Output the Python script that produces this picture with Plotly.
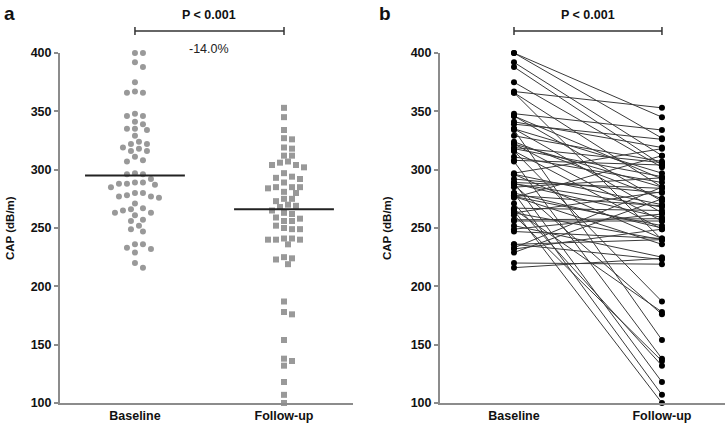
import plotly.graph_objects as go

# ---------------- data ----------------
groups = ["Baseline", "Follow-up"]
baseline = [400, 400, 392, 388, 375, 367, 366, 366, 348, 346, 346, 341, 339, 335, 335, 334,
            329, 324, 322, 322, 319, 318, 316, 316, 311, 308, 307, 297, 296, 296, 292, 289,
            289, 288, 288, 287, 285, 280, 280, 278, 277, 277, 276, 271, 267, 266, 265, 263,
            263, 261, 257, 256, 252, 249, 247, 236, 236, 233, 232, 229, 220, 216]
followup = [327, 345, 312, 304, 302, 353, 285, 240, 334, 292, 273, 319, 326, 263, 297, 154,
            307, 275, 285, 256, 306, 294, 187, 249, 289, 304, 138, 318, 270, 241, 280, 118,
            284, 268, 259, 176, 293, 250, 107, 269, 252, 236, 312, 132, 265, 178, 100, 281,
            240, 136, 258, 256, 225, 262, 241, 240, 223, 285, 249, 275, 219, 224]
group_means = [295, 266]
y_ticks = [100, 150, 200, 250, 300, 350, 400]
p_label = "P < 0.001"
change_label = "-14.0%"
y_title = "CAP (dB/m)"

# ---------------- geometry ----------------
W, H = 726, 424
FONT = "Liberation Sans, Arial, sans-serif"
GRAY = "#999999"
AXIS = "#8c8c8c"

L_x0, L_x1 = 60, 353
R_x0, R_x1 = 440, 725
Y_top, Y_bot = 53, 403
L_range = [-0.503, 1.463]
R_range = [-0.5, 1.426]

ppu_y = (Y_bot - Y_top) / 300.0
ppu_xL = (L_x1 - L_x0) / (L_range[1] - L_range[0])


def swarm(values, diameter=7.0, step=4.0):
    placed = []
    offs = [0.0] * len(values)
    order = sorted(range(len(values)), key=lambda i: -values[i])
    for i in order:
        y = values[i] * ppu_y
        chosen = None
        k = 0
        while chosen is None:
            cands = [0.0] if k == 0 else [k * step, -k * step]
            for c in cands:
                if all((c - px) ** 2 + (y - py) ** 2 >= diameter ** 2 for px, py in placed):
                    chosen = c
                    break
            k += 1
        placed.append((chosen, y))
        offs[i] = chosen / ppu_xL
    return offs


off_b = swarm(baseline)
off_f = swarm(followup)

fig = go.Figure()

fig.add_trace(go.Scatter(
    x=[0 + o for o in off_b], y=baseline, mode="markers",
    marker=dict(symbol="circle", size=6, color=GRAY, line=dict(width=0)),
    xaxis="x", yaxis="y", cliponaxis=False, showlegend=False))
fig.add_trace(go.Scatter(
    x=[1 + o for o in off_f], y=followup, mode="markers",
    marker=dict(symbol="square", size=6, color=GRAY, line=dict(width=0)),
    xaxis="x", yaxis="y", cliponaxis=False, showlegend=False))

half = 0.335
for gi, m in enumerate(group_means):
    fig.add_trace(go.Scatter(
        x=[gi - half, gi + half], y=[m, m], mode="lines",
        line=dict(color="#222222", width=2),
        xaxis="x", yaxis="y", cliponaxis=False, showlegend=False))

lx, ly = [], []
for b, f in zip(baseline, followup):
    lx += [0, 1, None]
    ly += [b, f, None]
fig.add_trace(go.Scatter(
    x=lx, y=ly, mode="lines", line=dict(color="#3a3a3a", width=1),
    xaxis="x2", yaxis="y2", cliponaxis=False, showlegend=False))
fig.add_trace(go.Scatter(
    x=[0] * len(baseline) + [1] * len(followup), y=baseline + followup, mode="markers",
    marker=dict(symbol="circle", size=6, color="#000000"),
    xaxis="x2", yaxis="y2", cliponaxis=False, showlegend=False))

ydom = [(H - Y_bot) / H, (H - Y_top) / H]
axis_common = dict(showgrid=False, zeroline=False, showline=True, linecolor=AXIS,
                   linewidth=2, automargin=False)
yaxis_common = dict(axis_common, range=[100, 400], tickvals=y_ticks,
                    ticktext=[f"<b>{v}</b>" for v in y_ticks],
                    ticks="outside", ticklen=4, tickcolor=AXIS, tickwidth=1.5,
                    tickfont=dict(family=FONT, size=12.5, color="#111111"), domain=ydom)
xaxis_common = dict(axis_common, tickvals=[0, 1], ticktext=[f"<b>{g}</b>" for g in groups],
                    ticks="", tickfont=dict(family=FONT, size=12.5, color="#111111"))

fig.update_layout(
    width=W, height=H, margin=dict(l=0, r=0, t=0, b=0, autoexpand=False),
    paper_bgcolor="white", plot_bgcolor="white",
    xaxis=dict(xaxis_common, domain=[L_x0 / W, L_x1 / W], range=L_range, anchor="y"),
    yaxis=dict(yaxis_common, anchor="x"),
    xaxis2=dict(xaxis_common, domain=[R_x0 / W, R_x1 / W], range=R_range, anchor="y2"),
    yaxis2=dict(yaxis_common, anchor="x2"),
)

yb = (H - 31) / H
yt0, yt1 = (H - 35) / H, (H - 27) / H
for xr in ["x", "x2"]:
    fig.add_shape(type="line", xref=xr, yref="paper", x0=0, x1=1, y0=yb, y1=yb,
                  line=dict(color="#333333", width=1.5))
    for xv in [0, 1]:
        fig.add_shape(type="line", xref=xr, yref="paper", x0=xv, x1=xv, y0=yt0, y1=yt1,
                      line=dict(color="#333333", width=1.5))
    fig.add_annotation(xref=xr, yref="paper", x=0.5, y=(H - 15) / H, text=f"<b>{p_label}</b>",
                       xanchor="center", yanchor="middle",
                       showarrow=False, font=dict(family=FONT, size=12.5, color="#111111"))

fig.add_annotation(xref="x", yref="paper", x=0.5, y=(H - 49) / H, text=change_label,
                   xanchor="center", yanchor="middle",
                   showarrow=False, font=dict(family=FONT, size=12.5, color="#222222"))

fig.add_annotation(xref="paper", yref="paper", x=9 / W, y=(H - 13) / H, text="<b>a</b>",
                   xanchor="center", yanchor="middle",
                   showarrow=False, font=dict(family=FONT, size=19, color="#111111"))
fig.add_annotation(xref="paper", yref="paper", x=385 / W, y=(H - 13) / H, text="<b>b</b>",
                   xanchor="center", yanchor="middle",
                   showarrow=False, font=dict(family=FONT, size=19, color="#111111"))

for xp in [10, 387]:
    fig.add_annotation(xref="paper", yref="paper", x=xp / W, y=(H - 228) / H,
                       text=f"<b>{y_title}</b>", textangle=-90, showarrow=False,
                       xanchor="center", yanchor="middle",
                       font=dict(family=FONT, size=11.5, color="#111111"))

fig.write_html(
    "out.html",
    config={"displayModeBar": False},
    post_script="document.body.style.margin='0';document.body.style.overflow='hidden';",
)
